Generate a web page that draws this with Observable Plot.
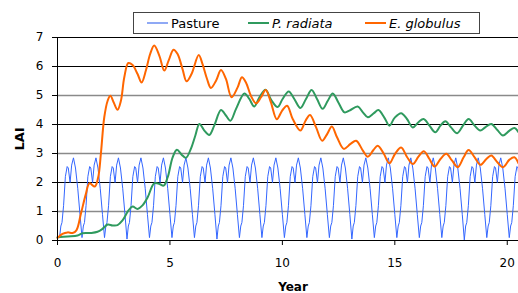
<!DOCTYPE html>
<html>
<head>
<meta charset="utf-8">
<script src="https://cdn.jsdelivr.net/npm/d3@7"></script>
<script src="https://cdn.jsdelivr.net/npm/@observablehq/plot@0.6"></script>
<style>
  body { margin: 0; background: #fff; }
  #wrap { position: relative; width: 518px; height: 293px; }
  #legend { position: absolute; left: 133px; top: 12px; width: 345px; height: 20px; border: 1px solid #444; background: #fff;
            font-family: "DejaVu Sans", sans-serif; font-size: 13px; color: #000; }
  .item { position: absolute; top: 0; height: 20px; display: flex; align-items: center; white-space: nowrap; }
  .sw { display: inline-block; width: 21px; height: 0; margin-right: 3px; }
</style>
</head>
<body>
<div id="wrap"><div id="legend"></div></div>
<script>
// ---- data ----
const seriesNames = ["Pasture", "P. radiata", "E. globulus"];
const yTicks = [0, 1, 2, 3, 4, 5, 6, 7];
const xTicks = [0, 5, 10, 15, 20];

// Pasture LAI (year, value)
const pasture = [
[0,0.15],[0.09,0.1],[0.15,0.5],[0.2,0.62],[0.27,1.2],[0.35,2.2],[0.43,2.55],[0.48,2.5],[0.56,2.0],[0.63,2.6],[0.71,2.85],[0.8,2.5],[0.9,1.8],[1,0.9],
[1.09,0.1],[1.15,0.5],[1.2,0.62],[1.27,1.2],[1.35,2.2],[1.43,2.55],[1.48,2.5],[1.56,2.0],[1.63,2.6],[1.71,2.85],[1.8,2.5],[1.9,1.8],[2,0.9],
[2.09,0.1],[2.15,0.5],[2.2,0.62],[2.27,1.2],[2.35,2.2],[2.43,2.55],[2.48,2.5],[2.56,2.0],[2.63,2.6],[2.71,2.85],[2.8,2.5],[2.9,1.8],[3,0.9],
[3.09,0.05],[3.15,0.5],[3.2,0.62],[3.27,1.2],[3.35,2.2],[3.43,2.55],[3.48,2.5],[3.56,2.0],[3.63,2.6],[3.71,2.85],[3.8,2.5],[3.9,1.8],[4,0.9],
[4.09,0.1],[4.15,0.5],[4.2,0.62],[4.27,1.2],[4.35,2.2],[4.43,2.55],[4.48,2.5],[4.56,2.0],[4.63,2.6],[4.71,2.85],[4.8,2.5],[4.9,1.8],[5,0.9],
[5.09,0.1],[5.15,0.5],[5.2,0.62],[5.27,1.2],[5.35,2.2],[5.43,2.55],[5.48,2.5],[5.56,2.0],[5.63,2.6],[5.71,2.85],[5.8,2.5],[5.9,1.8],[6,0.9],
[6.09,0.1],[6.15,0.5],[6.2,0.62],[6.27,1.2],[6.35,2.2],[6.43,2.55],[6.48,2.5],[6.56,2.0],[6.63,2.6],[6.71,2.85],[6.8,2.5],[6.9,1.8],[7,0.9],
[7.09,0.05],[7.15,0.5],[7.2,0.62],[7.27,1.2],[7.35,2.2],[7.43,2.55],[7.48,2.5],[7.56,2.0],[7.63,2.6],[7.71,2.85],[7.8,2.5],[7.9,1.8],[8,0.9],
[8.09,0.1],[8.15,0.5],[8.2,0.62],[8.27,1.2],[8.35,2.2],[8.43,2.55],[8.48,2.5],[8.56,2.0],[8.63,2.6],[8.71,2.85],[8.8,2.5],[8.9,1.8],[9,0.9],
[9.09,0.1],[9.15,0.5],[9.2,0.62],[9.27,1.2],[9.35,2.2],[9.43,2.55],[9.48,2.5],[9.56,2.0],[9.63,2.6],[9.71,2.85],[9.8,2.5],[9.9,1.8],[10,0.9],
[10.09,0.1],[10.15,0.5],[10.2,0.62],[10.27,1.2],[10.35,2.2],[10.43,2.55],[10.48,2.5],[10.56,2.0],[10.63,2.6],[10.71,2.85],[10.8,2.5],[10.9,1.8],[11,0.9],
[11.09,0.1],[11.15,0.5],[11.2,0.62],[11.27,1.2],[11.35,2.2],[11.43,2.55],[11.48,2.5],[11.56,2.0],[11.63,2.6],[11.71,2.85],[11.8,2.5],[11.9,1.8],[12,0.9],
[12.09,0.1],[12.15,0.5],[12.2,0.62],[12.27,1.2],[12.35,2.2],[12.43,2.55],[12.48,2.5],[12.56,2.0],[12.63,2.6],[12.71,2.85],[12.8,2.5],[12.9,1.8],[13,0.9],
[13.09,0.05],[13.15,0.5],[13.2,0.62],[13.27,1.2],[13.35,2.2],[13.43,2.55],[13.48,2.5],[13.56,2.0],[13.63,2.6],[13.71,2.85],[13.8,2.5],[13.9,1.8],[14,0.9],
[14.09,0.1],[14.15,0.5],[14.2,0.62],[14.27,1.2],[14.35,2.2],[14.43,2.55],[14.48,2.5],[14.56,2.0],[14.63,2.6],[14.71,2.85],[14.8,2.5],[14.9,1.8],[15,0.9],
[15.09,0.1],[15.15,0.5],[15.2,0.62],[15.27,1.2],[15.35,2.2],[15.43,2.55],[15.48,2.5],[15.56,2.0],[15.63,2.6],[15.71,2.85],[15.8,2.5],[15.9,1.8],[16,0.9],
[16.09,0.1],[16.15,0.5],[16.2,0.62],[16.27,1.2],[16.35,2.2],[16.43,2.55],[16.48,2.5],[16.56,2.0],[16.63,2.6],[16.71,2.85],[16.8,2.5],[16.9,1.8],[17,0.9],
[17.09,0.1],[17.15,0.5],[17.2,0.62],[17.27,1.2],[17.35,2.2],[17.43,2.55],[17.48,2.5],[17.56,2.0],[17.63,2.6],[17.71,2.85],[17.8,2.5],[17.9,1.8],[18,0.9],
[18.09,0.02],[18.15,0.5],[18.2,0.62],[18.27,1.2],[18.35,2.2],[18.43,2.55],[18.48,2.5],[18.56,2.0],[18.63,2.6],[18.71,2.85],[18.8,2.5],[18.9,1.8],[19,0.9],
[19.09,0.1],[19.15,0.5],[19.2,0.62],[19.27,1.2],[19.35,2.2],[19.43,2.55],[19.48,2.5],[19.56,2.0],[19.63,2.6],[19.71,2.85],[19.8,2.5],[19.9,1.8],[20,0.9],
[20.09,0.1],[20.15,0.5],[20.2,0.62],[20.27,1.2],[20.35,2.2],[20.43,2.55],[20.48,2.5],[20.5,2.35]
];

// P. radiata LAI (year, value)
const radiata = [
[0,0.11],[0.45,0.14],[0.89,0.17],[1.11,0.25],[1.48,0.26],[1.78,0.3],[2.0,0.4],[2.23,0.55],[2.45,0.52],[2.67,0.53],[2.89,0.69],
[3.15,1.03],[3.34,1.17],[3.56,1.09],[3.78,1.21],[4.01,1.49],[4.3,1.97],[4.53,1.95],[4.72,1.89],[4.9,2.18],[5.12,2.87],
[5.31,3.13],[5.52,2.96],[5.71,2.85],[5.93,3.16],[6.13,3.62],[6.31,4.02],[6.53,3.79],[6.75,3.64],[6.97,3.96],[7.27,4.5],
[7.49,4.31],[7.69,4.13],[7.94,4.54],[8.31,5.07],[8.53,4.88],[8.75,4.62],[8.98,4.94],[9.25,5.2],[9.5,4.85],[9.79,4.6],
[10.01,4.88],[10.28,5.14],[10.53,4.88],[10.8,4.57],[11.05,4.88],[11.3,5.19],[11.54,4.88],[11.79,4.54],[12.02,4.82],[12.24,5.07],
[12.49,4.76],[12.76,4.42],[12.98,4.48],[13.35,4.62],[13.58,4.42],[13.8,4.25],[14.07,4.39],[14.27,4.5],[14.54,4.23],[14.76,3.96],
[14.99,4.23],[15.28,4.39],[15.54,4.19],[15.8,3.9],[16.05,4.08],[16.28,4.19],[16.54,3.96],[16.8,3.73],[17.03,3.96],[17.25,4.11],
[17.5,3.9],[17.77,3.7],[18.03,3.96],[18.28,4.19],[18.55,3.96],[18.8,3.79],[19.02,3.9],[19.29,4.02],[19.56,3.81],[19.81,3.62],
[20.1,3.79],[20.32,3.88],[20.5,3.73]
];

// E. globulus LAI (year, value)
const globulus = [
[0,0.09],[0.22,0.23],[0.45,0.28],[0.67,0.26],[0.84,0.35],[1.04,0.92],[1.26,1.6],[1.42,1.97],[1.66,1.86],[1.81,2.18],[1.93,3.0],
[2.08,4.25],[2.23,4.82],[2.35,4.99],[2.5,4.76],[2.67,4.51],[2.82,4.82],[2.97,5.63],[3.15,6.12],[3.34,6.05],[3.56,5.74],
[3.74,5.45],[3.93,5.86],[4.12,6.43],[4.3,6.72],[4.53,6.37],[4.75,5.86],[4.94,6.2],[5.16,6.58],[5.34,6.43],[5.56,5.91],
[5.74,5.49],[5.96,5.74],[6.28,6.4],[6.45,6.08],[6.65,5.57],[6.82,5.26],[7.05,5.51],[7.27,5.88],[7.49,5.57],[7.74,4.94],
[8.01,5.28],[8.2,5.63],[8.38,5.45],[8.6,4.99],[8.83,4.73],[9.05,4.94],[9.26,5.19],[9.49,4.76],[9.75,4.18],[9.99,4.48],
[10.21,4.65],[10.46,4.19],[10.8,3.79],[11.03,4.13],[11.23,4.33],[11.5,3.9],[11.77,3.44],[11.99,3.67],[12.2,3.93],[12.43,3.56],
[12.73,3.16],[13.03,3.33],[13.28,3.44],[13.58,3.1],[13.8,2.89],[14.05,3.12],[14.24,3.27],[14.51,2.99],[14.76,2.66],[15.01,2.99],
[15.28,3.21],[15.55,2.87],[15.8,2.64],[16.05,2.89],[16.29,3.08],[16.54,2.81],[16.77,2.55],[17.03,2.81],[17.29,2.99],[17.54,2.76],
[17.8,2.53],[18.06,2.87],[18.28,3.12],[18.55,2.87],[18.81,2.61],[19.07,2.81],[19.29,2.93],[19.56,2.7],[19.81,2.53],[20.1,2.79],
[20.32,2.87],[20.5,2.66]
];

// ---- styles ----
const colors = { "Pasture": "#3366ff", "P. radiata": "#2f9a5e", "E. globulus": "#ff6600" };
const italic = { "Pasture": false, "P. radiata": true, "E. globulus": true };
const legendLeft = [13, 114, 231];

const X = d => d[0], Y = d => d[1];

const chart = Plot.plot({
  width: 518, height: 293,
  marginLeft: 57, marginRight: 0, marginTop: 37, marginBottom: 53,
  style: { fontFamily: '"DejaVu Sans", sans-serif', fontSize: "12px", background: "#fff", color: "#000" },
  x: { domain: [0, 20.5] },
  y: { domain: [0, 7] },
  marks: [
    Plot.ruleY(yTicks.filter(d => d > 0 && d % 2 === 1 && d < 7), { stroke: "#8a8a8a", strokeWidth: 1.6 }),
    Plot.ruleY(yTicks.filter(d => d > 0 && (d % 2 === 0 || d === 7)), { stroke: "#000", strokeWidth: 1 }),
    Plot.line(pasture, { x: X, y: Y, stroke: colors["Pasture"], strokeWidth: 1 }),
    Plot.line(radiata, { x: X, y: Y, stroke: colors["P. radiata"], strokeWidth: 2, curve: "catmull-rom" }),
    Plot.line(globulus, { x: X, y: Y, stroke: colors["E. globulus"], strokeWidth: 2, curve: "catmull-rom" }),
    Plot.ruleX([0], { stroke: "#000" }),
    Plot.ruleY([0], { stroke: "#000" }),
    Plot.axisY({ ticks: yTicks, tickSize: 5, tickPadding: 9, label: null, tickFormat: d => String(d) }),
    Plot.axisX({ ticks: xTicks, tickSize: 5, tickPadding: 13, label: null, tickFormat: d => String(d) }),
    Plot.text(["LAI"], { text: d => d, frameAnchor: "left", dx: -38, rotate: -90, textAnchor: "middle", lineAnchor: "middle", fontWeight: "bold", fontSize: 13 }),
    Plot.text(["Year"], { text: d => d, frameAnchor: "bottom", dy: 47, dx: 5, textAnchor: "middle", lineAnchor: "middle", fontWeight: "bold", fontSize: 12 })
  ]
});

const wrap = document.getElementById("wrap");
wrap.insertBefore(chart, wrap.firstChild);

const legend = document.getElementById("legend");
seriesNames.forEach((name, i) => {
  const item = document.createElement("div");
  item.className = "item";
  item.style.left = legendLeft[i] + "px";
  const sw = document.createElement("span");
  sw.className = "sw";
  sw.style.borderTop = "2px solid " + colors[name];
  if (name === "Pasture") sw.style.borderTopColor = "#8fa9f5";
  const label = document.createElement("span");
  label.textContent = name;
  if (italic[name]) label.style.fontStyle = "italic";
  item.appendChild(sw);
  item.appendChild(label);
  legend.appendChild(item);
});
</script>
</body>
</html>
